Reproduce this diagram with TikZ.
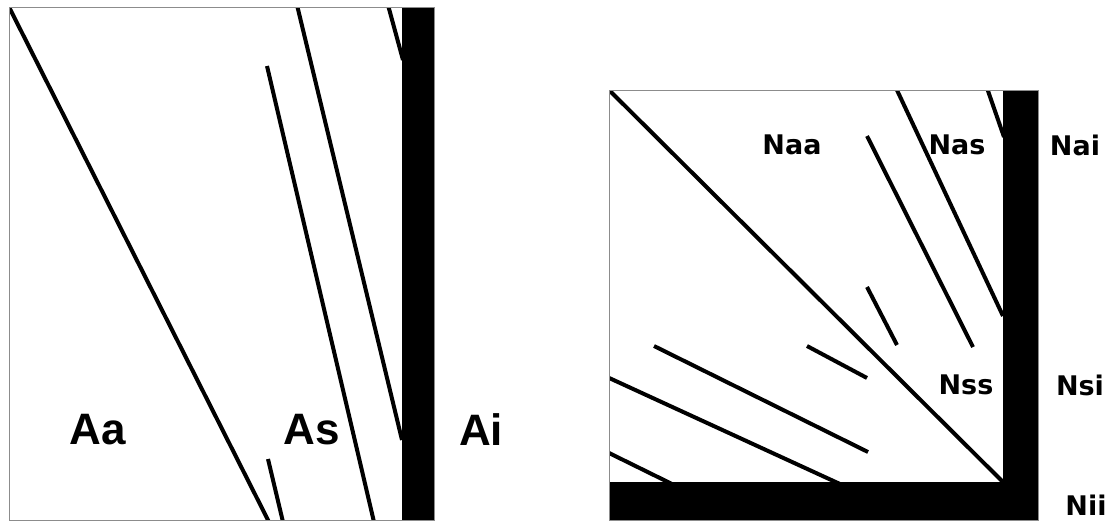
\documentclass[tikz,border=0pt]{standalone}
\usepackage{fontspec}
\setmainfont{Liberation Sans}
\newfontfamily\nfont{DejaVu Sans}
\begin{document}
\begin{tikzpicture}[x=1pt,y=-1pt,
  ln/.style={line width=4pt,black},
  frame/.style={draw=black!45,line width=1pt},
  bigl/.style={font=\fontsize{44}{44}\selectfont\bfseries,inner sep=0pt},
  smalll/.style={font=\nfont\fontsize{27}{27}\selectfont\bfseries,inner sep=0pt}]
\useasboundingbox (0,0) rectangle (1112,522);
% ---------- left panel ----------
\begin{scope}
\clip (9,7) rectangle (434,520);
\draw[ln] (9,7) -- (269,522);
\draw[ln] (267,66) -- (374,522);
\draw[ln] (297,5) -- (402,440);
\draw[ln] (388,5) -- (403,60);
\draw[ln] (268,459) -- (283,522);
\fill[black] (402,7) rectangle (434,520);
\end{scope}
\draw[frame] (9,7) rectangle (434,520);
\node[bigl] (Aa) at (98,430) {Aa};
\node[bigl] (As) at (312,430) {As};
\node[bigl] (Ai) at (481,430) {Ai};
% ---------- right panel ----------
\begin{scope}
\clip (609,90) rectangle (1038,520);
\draw[ln] (609,90) -- (1003,482);
\draw[ln] (896,88) -- (1003,316);
\draw[ln] (987,88) -- (1004,137);
\draw[ln] (867,136) -- (973,347);
\draw[ln] (867,287) -- (897,345);
\draw[ln] (807,346) -- (867,378);
\draw[ln] (654,346) -- (868,452);
\draw[ln] (607,377) -- (840,484);
\draw[ln] (607,452) -- (672,484);
\fill[black] (1003,90) rectangle (1038,520);
\fill[black] (609,482) rectangle (1038,520);
\end{scope}
\draw[frame] (609,90) rectangle (1038,520);
\node[smalll] (Naa) at (792,145) {Naa};
\node[smalll] (Nas) at (957,145) {Nas};
\node[smalll] (Nai) at (1075,145) {Nai};
\node[smalll] (Nss) at (966,385) {Nss};
\node[smalll] (Nsi) at (1080,385) {Nsi};
\node[smalll] (Nii) at (1086,505) {Nii};
\end{tikzpicture}
\end{document}
